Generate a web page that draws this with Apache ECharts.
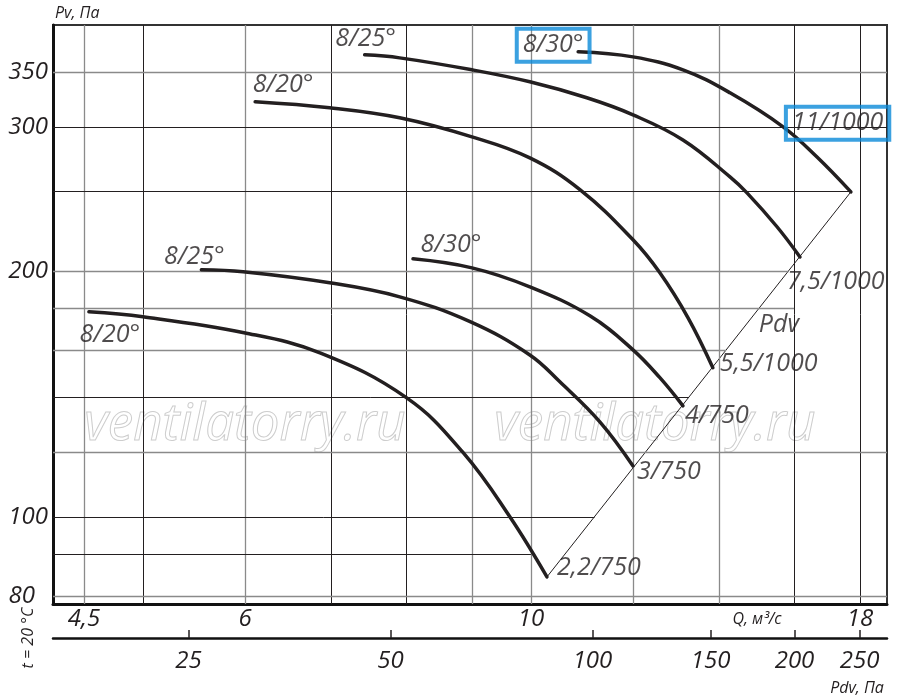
<!DOCTYPE html>
<html>
<head>
<meta charset="utf-8">
<title>Pv - Q</title>
<script src="https://cdn.jsdelivr.net/npm/echarts@6/dist/echarts.min.js"></script>
<style>
  html, body { margin: 0; padding: 0; background: #fff; }
  #chart { width: 900px; height: 696px; }
</style>
</head>
<body>
<div id="chart"></div>
<script>
// grid values and tick labels
var qGrid = [4.5, 5, 6, 7, 8, 9, 10, 12, 14, 16, 18];
var qTicks = ['4,5', '', '6', '', '', '', '10', '', '', '', '18'];
var pGrid = [80, 90, 100, 120, 140, 160, 180, 200, 250, 300, 350];
var pTicks = ['80', '', '100', '', '', '', '', '200', '', '300', '350'];
var pdvTicks = [25, 50, 100, 150, 200, 250];

// fan curves, [Q m3/s, Pv Pa]
var curveA = [[4.54, 178.2], [5.0, 175.7], [5.99, 168.0], [6.86, 158.7], [8.01, 139.8], [8.86, 119.8], [9.63, 100.0], [10.29, 84.4]];
var curveB = [[5.55, 200.6], [5.98, 199.5], [6.98, 193.4], [7.91, 185.9], [8.97, 173.3], [9.98, 157.8], [10.53, 146.3], [11.31, 130.7], [12.0, 115.4]];
var curveC = [[8.1, 206.9], [9.0, 201.7], [9.98, 191.2], [11.11, 176.2], [12.0, 160.1], [12.59, 148.0], [13.12, 136.7]];
var curveD = [[6.11, 322.1], [6.98, 316.7], [7.91, 307.9], [9.0, 291.8], [9.98, 275.0], [10.92, 251.3], [12.0, 218.3], [12.59, 198.9], [13.24, 175.2], [13.84, 152.2]];
var curveE = [[7.43, 367.7], [7.91, 364.6], [9.0, 352.5], [9.98, 340.8], [11.05, 325.8], [12.0, 310.5], [13.12, 289.3], [14.27, 260.7], [14.71, 249.2], [15.52, 226.5], [16.17, 208.0]];
var curveF = [[10.88, 370.9], [12.0, 365.6], [13.12, 352.5], [14.27, 330.4], [15.69, 300.2], [16.67, 275.7], [17.71, 249.9]];

var startNames = ['8/20°', '8/25°', '8/30°', '8/20°', '8/25°', '8/30°'];
var endNames = ['2,2/750', '3/750', '4/750', '5,5/1000', '7,5/1000', '11/1000'];

// ---- styling ----
var FONT = 'Open Sans';
var INK = '#231f20';
var GREY = '#8a8a8a';
var BLUE = '#0a8ad8';
var Q_MIN = 4.258, Q_MAX = 18.89, P_MIN = 78.2, P_MAX = 400;
var PDV_MIN = 15.71, PDV_MAX = 274.7;

var qGridDark = [0, 1, 0, 1, 1, 0, 0, 0, 0, 1, 1];
var pGridDark = [0, 1, 1, 0, 1, 0, 0, 0, 1, 1, 0];
// where each horizontal line stops: null = right edge, 'pdv' = at the Pdv line
var pGridEnd = [null, 10, 'pdv', null, 'pdv', 'pdv', 16, 'pdv', 'pdv', null, null];

var startOffsets = [[21, 23], [-7, -13], [38, -14], [28, -17], [1, -16], [-25, -6.5]];
var endOffsets = [[10, -9], [4, 6], [2, 10], [7, -4], [-13, 25], [-65, -68.5]];

var curves = [curveA, curveB, curveC, curveD, curveE, curveF];
var lastA = curveA[curveA.length - 1];
var lastF = curveF[curveF.length - 1];
// dynamic pressure line Pdv = k * Q^2 through the curve ends
var kPdv = (lastA[1] / (lastA[0] * lastA[0]) + lastF[1] / (lastF[0] * lastF[0])) / 2;

var tickText = { fontFamily: FONT, fontStyle: 'italic', fontSize: 24, color: INK };
var curveText = { fontFamily: FONT, fontStyle: 'italic', fontSize: 25, color: INK };

var vLines = qGrid.map(function (q, i) {
    return {
        xAxis: q,
        lineStyle: { color: qGridDark[i] ? INK : GREY, width: qGridDark[i] ? 1 : 1.3, type: 'solid' },
        label: Object.assign({ show: !!qTicks[i], formatter: qTicks[i], position: 'start', distance: 3 }, tickText)
    };
});

var hLines = pGrid.map(function (p, i) {
    var end = pGridEnd[i] === null ? Q_MAX : (pGridEnd[i] === 'pdv' ? Math.sqrt(p / kPdv) : pGridEnd[i]);
    var lbl = Object.assign({ show: !!pTicks[i], formatter: pTicks[i], position: 'start', distance: 5 }, tickText);
    if (p === 80) lbl.padding = [0, 13, 10, 0];
    return [
        { coord: [Q_MIN, p], lineStyle: { color: pGridDark[i] ? INK : GREY, width: pGridDark[i] ? 1 : 1.3, type: 'solid' }, label: lbl },
        { coord: [end, p] }
    ];
});

function makeLabel(text, off, align, boxed) {
    var l = Object.assign({ show: true, formatter: text, position: 'inside', offset: off, align: align, verticalAlign: 'middle' }, curveText);
    if (boxed) {
        l.borderColor = BLUE;
        l.borderWidth = 4;
        l.padding = [4, 6, 4, 6];
    }
    return l;
}

var labelData = [];
curves.forEach(function (c, i) {
    labelData.push({ value: c[0], label: makeLabel(startNames[i], startOffsets[i], 'center', i === 5) });
    labelData.push({ value: c[c.length - 1], label: makeLabel(endNames[i], endOffsets[i], 'left', i === 5) });
});
labelData.push({
    value: [Math.sqrt(lastA[0] * lastF[0]), Math.sqrt(lastA[1] * lastF[1])],
    label: makeLabel('Pdv', [80, -60], 'center', false)
});

var curveSeries = curves.map(function (c, i) {
    return {
        type: 'line',
        name: startNames[i] + ' ' + endNames[i],
        data: c,
        xAxisIndex: 0, yAxisIndex: 0,
        smooth: 0.4,
        showSymbol: false,
        silent: true,
        z: 5,
        lineStyle: { color: INK, width: 3.5, cap: 'round' }
    };
});

var chart = echarts.init(document.getElementById('chart'), null, { renderer: 'canvas' });

chart.setOption({
    animation: false,
    backgroundColor: '#fff',
    grid: [
        { left: 53, top: 25, width: 834, height: 579, show: true, borderColor: '#333', borderWidth: 2, backgroundColor: 'transparent' },
        { left: 53, top: 630, width: 834, height: 8 }
    ],
    xAxis: [
        {
            type: 'log', logBase: 10, gridIndex: 0, min: Q_MIN, max: Q_MAX,
            axisLine: { show: true, lineStyle: { color: '#111', width: 3 } },
            axisTick: { show: false }, axisLabel: { show: false }, splitLine: { show: false }
        },
        {
            type: 'log', logBase: 10, gridIndex: 1, min: PDV_MIN, max: PDV_MAX, position: 'bottom',
            axisLine: { show: true, lineStyle: { color: '#111', width: 2.5 } },
            axisTick: { show: false }, axisLabel: { show: false }, splitLine: { show: false }
        }
    ],
    yAxis: [
        {
            type: 'log', logBase: 10, gridIndex: 0, min: P_MIN, max: P_MAX,
            axisLine: { show: true, lineStyle: { color: '#111', width: 3 } },
            axisTick: { show: false }, axisLabel: { show: false }, splitLine: { show: false }
        },
        { type: 'value', gridIndex: 1, min: 0, max: 1, show: false }
    ],
    graphic: [
        { type: 'text', x: 245, y: 425, z: 1, silent: true,
          style: { text: 'ventilatorry.ru', font: 'italic 51px "Open Sans"', fill: 'transparent', stroke: '#cdcdcd', lineWidth: 1, align: 'center', verticalAlign: 'middle', textAlign: 'center', textVerticalAlign: 'middle' } },
        { type: 'text', x: 655, y: 425, z: 1, silent: true,
          style: { text: 'ventilatorry.ru', font: 'italic 51px "Open Sans"', fill: 'transparent', stroke: '#cdcdcd', lineWidth: 1, align: 'center', verticalAlign: 'middle', textAlign: 'center', textVerticalAlign: 'middle' } },
        { type: 'text', x: 55, y: 13, silent: true,
          style: { text: 'Pv, Па', font: 'italic 16px "Open Sans"', fill: INK, align: 'left', verticalAlign: 'middle', textAlign: 'left', textVerticalAlign: 'middle' } },
        { type: 'text', x: 757, y: 619, silent: true,
          style: { text: 'Q, м³/с', font: 'italic 16px "Open Sans"', fill: INK, align: 'center', verticalAlign: 'middle', textAlign: 'center', textVerticalAlign: 'middle' } },
        { type: 'text', x: 857, y: 688, silent: true,
          style: { text: 'Pdv, Па', font: 'italic 16px "Open Sans"', fill: INK, align: 'center', verticalAlign: 'middle', textAlign: 'center', textVerticalAlign: 'middle' } },
        { type: 'text', x: 28, y: 638, rotation: Math.PI / 2, silent: true,
          style: { text: 't = 20 °C', font: 'italic 16px "Open Sans"', fill: INK, align: 'center', verticalAlign: 'middle', textAlign: 'center', textVerticalAlign: 'middle' } }
    ],
    series: [
        {
            // Pdv line plus the chart's grid
            type: 'line',
            name: 'Pdv',
            data: [lastA, lastF],
            xAxisIndex: 0, yAxisIndex: 0,
            showSymbol: false,
            silent: true,
            z: 3,
            lineStyle: { color: INK, width: 1 },
            markLine: {
                silent: true,
                symbol: ['none', 'none'],
                animation: false,
                emphasis: { disabled: true },
                data: vLines.concat(hLines)
            }
        },
        {
            // Pdv scale below the chart
            type: 'line',
            data: pdvTicks.map(function (v) { return [v, 0]; }),
            xAxisIndex: 1, yAxisIndex: 1,
            showSymbol: false,
            silent: true,
            lineStyle: { opacity: 0 },
            markLine: {
                silent: true,
                symbol: ['none', 'none'],
                animation: false,
                emphasis: { disabled: true },
                lineStyle: { color: INK, width: 1.5, type: 'solid' },
                label: Object.assign({ show: true, position: 'start', distance: 11 }, tickText),
                data: pdvTicks.map(function (v) {
                    return { xAxis: v, label: { formatter: String(v) } };
                })
            }
        }
    ].concat(curveSeries).concat([
        {
            type: 'scatter',
            name: 'labels',
            data: labelData,
            xAxisIndex: 0, yAxisIndex: 0,
            symbolSize: 0,
            clip: false,
            silent: true,
            z: 6,
            itemStyle: { color: 'transparent' }
        }
    ])
});
</script>
</body>
</html>
